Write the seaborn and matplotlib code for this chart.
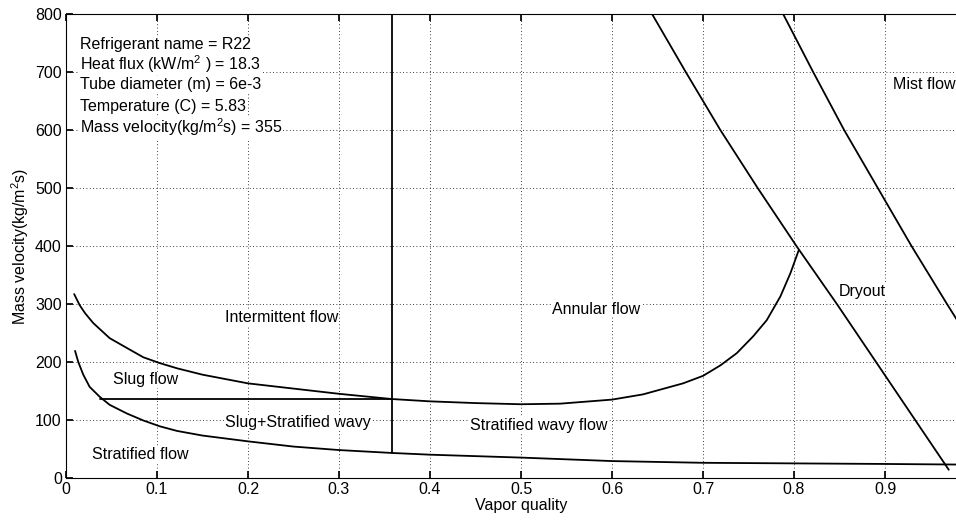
import seaborn as sns
import matplotlib.pyplot as plt
import pandas as pd, numpy as np

## ____ data
# upper boundary (intermittent/annular vs stratified wavy)
x_wavy = [0.009, 0.015, 0.021, 0.030, 0.048, 0.067, 0.085, 0.103, 0.122, 0.15, 0.2,
          0.25, 0.3, 0.358, 0.4, 0.45, 0.5, 0.543, 0.600, 0.634, 0.678, 0.700,
          0.719, 0.737, 0.755, 0.770, 0.785, 0.796, 0.805]
g_wavy = [317, 298, 284, 267, 241, 224, 208, 198, 189, 178, 163,
          154, 145, 136, 132, 129, 127, 128, 135, 144, 163, 176,
          194, 215, 244, 272, 313, 353, 392]

# lower boundary (stratified)
x_strat = [0.010, 0.0135, 0.019, 0.026, 0.037, 0.048, 0.067, 0.085, 0.103, 0.122, 0.15,
           0.175, 0.2, 0.25, 0.3, 0.358, 0.4, 0.5, 0.6, 0.7, 0.8, 0.9, 0.98]
g_strat = [219, 200, 178, 157, 140, 126, 111, 99, 89, 81, 73,
           68, 63, 54, 48, 43, 40, 35, 29, 26, 25, 24, 23]

# slug / slug+stratified wavy split
x_slug = [0.037, 0.358]
g_slug = [136, 136]

# intermittent / annular split
x_ia = [0.358, 0.358]
g_ia = [43, 800]

# dryout boundary
x_dry = [0.644, 0.681, 0.719, 0.760, 0.803, 0.847, 0.890, 0.933, 0.970]
g_dry = [800, 700, 600, 500, 399, 300, 200, 100, 14]

# mist boundary
x_mist = [0.788, 0.821, 0.855, 0.892, 0.929, 0.968, 0.99]
g_mist = [800, 700, 600, 500, 400, 300, 245]

info = ["Refrigerant name = R22",
        "Heat flux (kW/m$^2$ ) = 18.3",
        "Tube diameter (m) = 6e-3",
        "Temperature (C) = 5.83",
        "Mass velocity(kg/m$^2$s) = 355"]
info_y = [748, 714, 679, 641, 605]

regions = ["Intermittent flow", "Annular flow", "Dryout", "Mist flow",
           "Slug flow", "Slug+Stratified wavy", "Stratified wavy flow", "Stratified flow"]
reg_x = [0.237, 0.583, 0.875, 0.943, 0.088, 0.255, 0.519, 0.082]
reg_y = [276, 291, 322, 679, 169, 95, 91, 41]

xtick_vals = [0, 0.1, 0.2, 0.3, 0.4, 0.5, 0.6, 0.7, 0.8, 0.9]
xtick_labels = ["0", "0.1", "0.2", "0.3", "0.4", "0.5", "0.6", "0.7", "0.8", "0.9"]

## ____ style
sns.set_theme(style="white")
plt.rcParams['font.family'] = ['Liberation Sans', 'DejaVu Sans']
plt.rcParams['mathtext.fontset'] = 'custom'
plt.rcParams['mathtext.rm'] = 'Liberation Sans'
plt.rcParams['mathtext.it'] = 'Liberation Sans'
plt.rcParams['text.color'] = 'black'
plt.rcParams['axes.labelcolor'] = 'black'

fs = 11.5
fig = plt.figure(figsize=(9.56, 5.2), dpi=100)
# x axis runs to 1.0, the right part is cut by the figure edge like the original
ax = fig.add_axes([0.069, 0.081, 0.952, 0.892])

curves = [(x_wavy, g_wavy), (x_strat, g_strat), (x_slug, g_slug),
          (x_ia, g_ia), (x_dry, g_dry), (x_mist, g_mist)]
for cx, cy in curves:
    d = pd.DataFrame({"x": cx, "G": cy})
    sns.lineplot(data=d, x="x", y="G", sort=False, estimator=None,
                 color="black", lw=1.3, ax=ax)

for t, yy in zip(info, info_y):
    ax.text(0.015, yy, t, fontsize=fs, va="center", ha="left",
            bbox=dict(facecolor="white", edgecolor="none", pad=0.5))

for t, xx, yy in zip(regions, reg_x, reg_y):
    ax.text(xx, yy, t, fontsize=fs, va="center", ha="center",
            bbox=dict(facecolor="white", edgecolor="none", pad=0.5))

ax.set_xlim(0, 1.0)
ax.set_ylim(0, 800)
ax.set_xticks(xtick_vals)
ax.set_xticklabels(xtick_labels)
ax.set_yticks(np.arange(0, 801, 100))
ax.grid(True, color="black", linestyle=(0, (1, 3)), linewidth=0.6)
ax.set_axisbelow(True)
ax.tick_params(direction="in", length=5, labelsize=fs, colors="black", pad=3,
               top=True, right=True, bottom=True, left=True)
for s in ax.spines.values():
    s.set_color("black")
    s.set_linewidth(0.8)

ax.set_xlabel("Vapor quality", fontsize=fs, labelpad=1)
ax.set_ylabel("Mass velocity(kg/m$^2$s)", fontsize=fs, labelpad=3)

plt.savefig("out.png", dpi=100)
